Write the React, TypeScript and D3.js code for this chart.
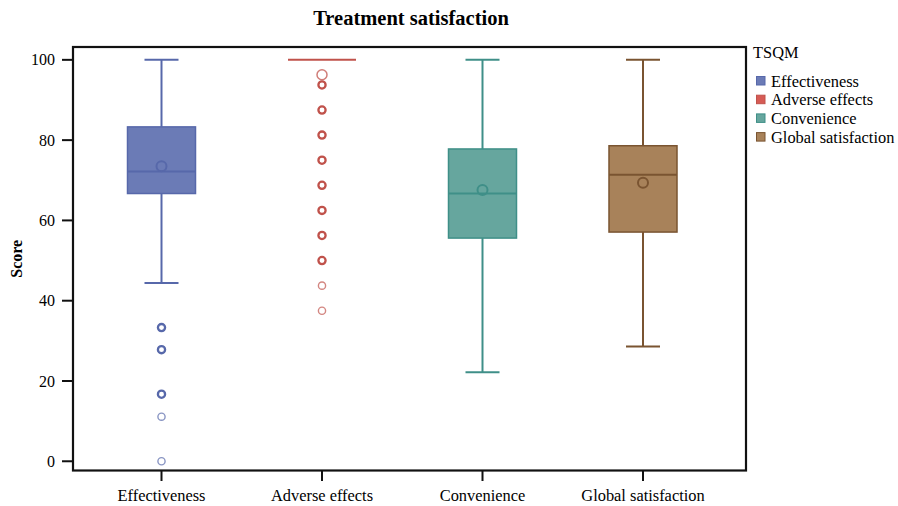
import React from "react";
import * as d3 from "d3";

const categories = ["Effectiveness", "Adverse effects", "Convenience", "Global satisfaction"];
const whiskerLow = [44.4, 100, 22.2, 28.6];
const q1 = [66.7, 100, 55.6, 57.1];
const median = [72.2, 100, 66.7, 71.4];
const q3 = [83.3, 100, 77.8, 78.6];
const whiskerHigh = [100, 100, 100, 100];
const means = [73.5, 96.3, 67.6, 69.4];
const outliers = [
  [33.3, 27.8, 16.7, 11.1, 0],
  [93.75, 87.5, 81.25, 75, 68.75, 62.5, 56.25, 50, 43.75, 37.5],
  [],
  [],
];
const outlierCounts = [
  [3, 3, 3, 1, 1],
  [3, 3, 3, 3, 3, 3, 3, 3, 1, 1],
  [],
  [],
];
const yTicks = [0, 20, 40, 60, 80, 100];
const fills = ["#6b7bb6", "#d65b55", "#66a69e", "#a8825a"];
const strokes = ["#5768aa", "#c0524b", "#3f8f88", "#7a5431"];

const W = 898;
const H = 506;
const frame = { left: 73, right: 746, top: 47, bottom: 470.5 };

export default function App() {
  const y = d3.scaleLinear().domain([-2.3, 103.2]).range([frame.bottom, frame.top]);
  const x = d3.scalePoint<string>().domain(categories).range([161.5, 643]);
  const boxW = 68;
  const capW = 34;
  const font = "'Liberation Serif', 'Times New Roman', serif";

  return (
    <svg width={W} height={H} style={{ position: "absolute", left: 0, top: 0, background: "#fff" }} fontFamily={font}>
      <text x={411} y={25} textAnchor="middle" fontSize={20.5} fontWeight="bold">Treatment satisfaction</text>

      {categories.map((c, i) => {
        const cx = x(c)!;
        const isFlat = q1[i] === q3[i];
        return (
          <g key={c}>
            <line x1={cx} x2={cx} y1={y(whiskerHigh[i])} y2={y(q3[i])} stroke={strokes[i]} strokeWidth={2} />
            <line x1={cx} x2={cx} y1={y(q1[i])} y2={y(whiskerLow[i])} stroke={strokes[i]} strokeWidth={2} />
            {!isFlat && (
              <>
                <line x1={cx - capW / 2} x2={cx + capW / 2} y1={y(whiskerHigh[i])} y2={y(whiskerHigh[i])} stroke={strokes[i]} strokeWidth={2} />
                <line x1={cx - capW / 2} x2={cx + capW / 2} y1={y(whiskerLow[i])} y2={y(whiskerLow[i])} stroke={strokes[i]} strokeWidth={2} />
                <rect x={cx - boxW / 2} y={y(q3[i])} width={boxW} height={y(q1[i]) - y(q3[i])} fill={fills[i]} stroke={strokes[i]} strokeWidth={1.5} />
              </>
            )}
            <line x1={cx - boxW / 2} x2={cx + boxW / 2} y1={y(median[i])} y2={y(median[i])} stroke={strokes[i]} strokeWidth={2} />
            <circle cx={cx} cy={y(means[i])} r={5} fill="none" stroke={strokes[i]} strokeWidth={isFlat ? 1.5 : 2} opacity={isFlat ? 0.75 : 1} />
            {outliers[i].map((v, j) => {
              const dark = outlierCounts[i][j] > 1;
              return (
                <circle key={j} cx={cx} cy={y(v)} r={3.6} fill="none" stroke={strokes[i]} strokeWidth={dark ? 2.3 : 1.4} opacity={dark ? 1 : 0.7} />
              );
            })}
          </g>
        );
      })}

      <rect x={frame.left} y={frame.top} width={frame.right - frame.left} height={frame.bottom - frame.top} fill="none" stroke="#111" strokeWidth={2.2} />

      {yTicks.map((t) => (
        <g key={t}>
          <line x1={62} x2={frame.left} y1={y(t)} y2={y(t)} stroke="#111" strokeWidth={2} />
          <text x={55} y={y(t)} dy="0.35em" textAnchor="end" fontSize={16}>{t}</text>
        </g>
      ))}
      {categories.map((c) => (
        <g key={c}>
          <line x1={x(c)!} x2={x(c)!} y1={frame.bottom} y2={481} stroke="#111" strokeWidth={2} />
          <text x={x(c)!} y={501} textAnchor="middle" fontSize={16.4}>{c}</text>
        </g>
      ))}
      <text transform={`translate(22, ${(frame.top + frame.bottom) / 2}) rotate(-90)`} textAnchor="middle" fontSize={16} fontWeight="bold">Score</text>

      <text x={753} y={58} fontSize={16.4}>TSQM</text>
      {categories.map((c, i) => (
        <g key={c}>
          <rect x={756.5} y={76.5 + i * 18.7} width={8.5} height={8.5} fill={fills[i]} stroke={strokes[i]} strokeWidth={1} />
          <text x={771} y={81 + i * 18.7} dy="0.35em" fontSize={16.4}>{c}</text>
        </g>
      ))}
    </svg>
  );
}
